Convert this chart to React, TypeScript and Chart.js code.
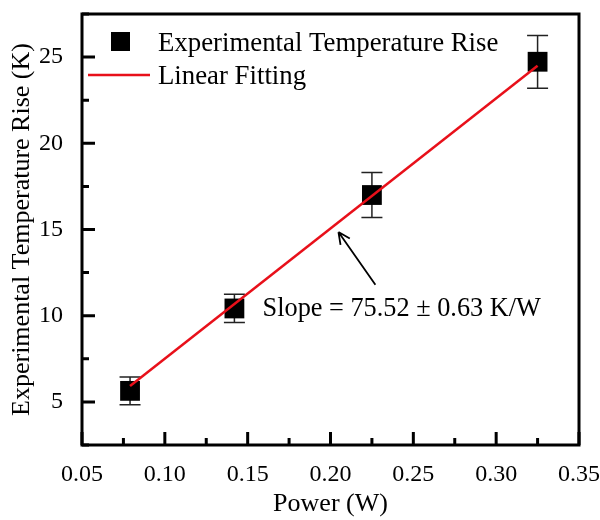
import React, { useEffect, useRef } from "react";
import { Chart, registerables } from "chart.js";

Chart.register(...registerables);

// ---- data ----
const xTicks = [0.05, 0.1, 0.15, 0.2, 0.25, 0.3, 0.35];
const yTicks = [5, 10, 15, 20, 25];
const xMinorTicks = [0.075, 0.125, 0.175, 0.225, 0.275, 0.325];
const yMinorTicks = [2.5, 7.5, 12.5, 17.5, 22.5, 27.5];
const seriesLabels = ["Experimental Temperature Rise", "Linear Fitting"];
const power = [0.079, 0.142, 0.225, 0.325];
const tempRise = [5.64, 10.42, 17.0, 24.73];
const tempErr = [0.8, 0.82, 1.3, 1.53];
const fitPower = [0.079, 0.325];
const fitRise = [5.92, 24.5];
const slopeText = "Slope = 75.52 \u00b1 0.63 K/W";
const slopeTextAt = [0.159, 10.0];
const arrowTail = [0.2271, 11.79];
const arrowHead = [0.2048, 14.85];

const FONT = "'Liberation Serif', 'Times New Roman', Times, serif";

const errorBarPlugin = {
  id: "errorBars",
  beforeDatasetsDraw(chart: any) {
    const { ctx, scales } = chart;
    ctx.save();
    ctx.strokeStyle = "#222";
    ctx.lineWidth = 1.5;
    power.forEach((p, i) => {
      const x = scales.x.getPixelForValue(p);
      const yt = scales.y.getPixelForValue(tempRise[i] + tempErr[i]);
      const yb = scales.y.getPixelForValue(tempRise[i] - tempErr[i]);
      const half = 10.5;
      ctx.beginPath();
      ctx.moveTo(x, yt);
      ctx.lineTo(x, yb);
      ctx.moveTo(x - half, yt);
      ctx.lineTo(x + half, yt);
      ctx.moveTo(x - half, yb);
      ctx.lineTo(x + half, yb);
      ctx.stroke();
    });
    ctx.restore();
  },
};

const framePlugin = {
  id: "frame",
  afterDraw(chart: any) {
    const { ctx, chartArea: a, scales } = chart;
    ctx.save();
    // ticks (inward)
    ctx.strokeStyle = "#000";
    ctx.lineWidth = 3;
    ctx.lineCap = "butt";
    ctx.beginPath();
    xTicks.forEach((v) => {
      const x = scales.x.getPixelForValue(v);
      ctx.moveTo(x, a.bottom);
      ctx.lineTo(x, a.bottom - 13);
    });
    xMinorTicks.forEach((v) => {
      const x = scales.x.getPixelForValue(v);
      ctx.moveTo(x, a.bottom);
      ctx.lineTo(x, a.bottom - 7);
    });
    yTicks.forEach((v) => {
      const y = scales.y.getPixelForValue(v);
      ctx.moveTo(a.left, y);
      ctx.lineTo(a.left + 13, y);
    });
    yMinorTicks.forEach((v) => {
      const y = scales.y.getPixelForValue(v);
      ctx.moveTo(a.left, y);
      ctx.lineTo(a.left + 7, y);
    });
    ctx.stroke();
    // frame
    ctx.lineWidth = 3;
    ctx.strokeRect(a.left, a.top, a.right - a.left, a.bottom - a.top);

    // legend
    const ds0 = chart.data.datasets[0];
    const ds1 = chart.data.datasets[1];
    ctx.fillStyle = "#000";
    ctx.fillRect(a.left + 29, a.top + 18, 19, 19);
    ctx.strokeStyle = ds1.borderColor;
    ctx.lineWidth = 2.5;
    ctx.beginPath();
    ctx.moveTo(a.left + 6, a.top + 61);
    ctx.lineTo(a.left + 68, a.top + 61);
    ctx.stroke();
    ctx.fillStyle = "#000";
    ctx.font = `26.8px ${FONT}`;
    ctx.textAlign = "left";
    ctx.textBaseline = "alphabetic";
    ctx.fillText(ds0.label, a.left + 76, a.top + 37);
    ctx.fillText(ds1.label, a.left + 76, a.top + 70);

    // annotation
    ctx.font = `26.3px ${FONT}`;
    const tx = scales.x.getPixelForValue(slopeTextAt[0]);
    const ty = scales.y.getPixelForValue(slopeTextAt[1]);
    ctx.fillText(slopeText, tx, ty);
    const x1 = scales.x.getPixelForValue(arrowTail[0]);
    const y1 = scales.y.getPixelForValue(arrowTail[1]);
    const x2 = scales.x.getPixelForValue(arrowHead[0]);
    const y2 = scales.y.getPixelForValue(arrowHead[1]);
    ctx.strokeStyle = "#000";
    ctx.lineWidth = 1.8;
    ctx.beginPath();
    ctx.moveTo(x1, y1);
    ctx.lineTo(x2, y2);
    const ang = Math.atan2(y2 - y1, x2 - x1);
    const hl = 13;
    ctx.moveTo(x2, y2);
    ctx.lineTo(x2 - hl * Math.cos(ang - 0.45), y2 - hl * Math.sin(ang - 0.45));
    ctx.moveTo(x2, y2);
    ctx.lineTo(x2 - hl * Math.cos(ang + 0.45), y2 - hl * Math.sin(ang + 0.45));
    ctx.stroke();
    ctx.restore();
  },
};

export default function App() {
  const ref = useRef<HTMLCanvasElement>(null);
  useEffect(() => {
    const canvas = ref.current;
    if (!canvas) return;
    const chart = new Chart(canvas, {
      type: "scatter",
      data: {
        datasets: [
          {
            label: seriesLabels[0],
            data: power.map((x, i) => ({ x, y: tempRise[i] })),
            pointStyle: "rect",
            pointRadius: 14,
            pointHoverRadius: 14,
            backgroundColor: "#000",
            borderColor: "#000",
            borderWidth: 0,
            order: 1,
          } as any,
          {
            label: seriesLabels[1],
            type: "line",
            data: fitPower.map((x, i) => ({ x, y: fitRise[i] })),
            borderColor: "#e8101a",
            borderWidth: 2.5,
            pointRadius: 0,
            showLine: true,
            fill: false,
            order: 0,
          } as any,
        ],
      },
      options: {
        responsive: false,
        animation: false,
        events: [],
        layout: { padding: { top: 10, right: 21, left: 0, bottom: 0 } },
        plugins: { legend: { display: false }, tooltip: { enabled: false } },
        scales: {
          x: {
            type: "linear",
            min: 0.05,
            max: 0.35,
            afterBuildTicks: (s: any) => {
              s.ticks = xTicks.map((v) => ({ value: v }));
            },
            afterFit: (s: any) => {
              s.height = 75;
              s.paddingLeft = 0;
              s.paddingRight = 0;
            },
            grid: { display: false, drawTicks: false },
            border: { display: false },
            ticks: {
              padding: 15,
              color: "#000",
              font: { family: FONT, size: 24 },
              maxRotation: 0,
              autoSkip: false,
              callback: (v: any) => Number(v).toFixed(2),
            },
            title: {
              display: true,
              text: "Power (W)",
              color: "#000",
              font: { family: FONT, size: 26 },
              padding: { top: 0, bottom: 0 },
            },
          },
          y: {
            type: "linear",
            min: 2.5,
            max: 27.5,
            afterBuildTicks: (s: any) => {
              s.ticks = yTicks.map((v) => ({ value: v }));
            },
            afterFit: (s: any) => {
              s.width = 82;
              s.paddingTop = 0;
              s.paddingBottom = 0;
            },
            grid: { display: false, drawTicks: false },
            border: { display: false },
            ticks: {
              padding: 19,
              color: "#000",
              font: { family: FONT, size: 24 },
              autoSkip: false,
              callback: (v: any) => String(v),
            },
            title: {
              display: true,
              text: "Experimental Temperature Rise (K)",
              color: "#000",
              font: { family: FONT, size: 26 },
              padding: { top: 7, bottom: 0 },
            },
          },
        },
      },
      plugins: [errorBarPlugin, framePlugin],
    });
    return () => chart.destroy();
  }, []);
  return (
    <div style={{ position: "fixed", left: 0, top: 0, width: 600, height: 520, background: "#fff" }}>
      <canvas ref={ref} width={600} height={520} style={{ display: "block" }} />
    </div>
  );
}
